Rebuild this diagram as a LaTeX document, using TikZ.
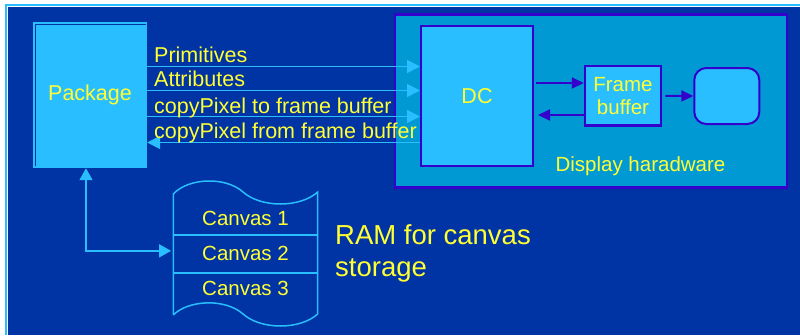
\documentclass[tikz,border=0pt]{standalone}
\usepackage{fontspec}
\setmainfont{Liberation Sans}
\usetikzlibrary{arrows.meta,calc}
\definecolor{bgblue}{RGB}{0,51,163}
\definecolor{skyblue}{RGB}{41,190,255}
\definecolor{hwblue}{RGB}{0,153,212}
\definecolor{edgepurple}{RGB}{51,0,204}
\definecolor{labelyellow}{RGB}{255,255,51}

\begin{document}
\begin{tikzpicture}[x=1pt,y=-1pt,
  txt/.style={text=labelyellow,font=\fontsize{21.5}{25}\selectfont,inner sep=0pt},
  smalltxt/.style={text=labelyellow,font=\fontsize{20.5}{23}\selectfont,inner sep=0pt},
  hwbox/.style={draw=edgepurple,line width=2pt,fill=skyblue,inner sep=0pt},
  parr/.style={draw=edgepurple,line width=2pt,-{Triangle[length=12pt,width=11pt]}},
  barr/.style={draw=skyblue,line width=1.6pt,-{Triangle[length=13pt,width=13pt]}},
  ramline/.style={draw=skyblue,line width=1.5pt},
  cell/.style={smalltxt,minimum width=144.4pt},
]
\useasboundingbox (0,0) rectangle (800,335);
% page background and frame
\fill[white] (0,0) rectangle (800,335);
\fill[skyblue] (5,4) rectangle (800,335);
\fill[white] (7,6) rectangle (800,335);
\fill[bgblue] (8,7) rectangle (800,335);

% display hardware enclosure
\node[draw=edgepurple,line width=2.5pt,fill=hwblue,minimum width=392pt,
      minimum height=173pt,inner sep=0pt] (hw) at (591,101) {};
\node[smalltxt,anchor=base] (hwlabel) at (640.5,171.7) {Display haradware};

% blocks
\node[hwbox,minimum width=112pt,minimum height=140pt] (dc) at (477,96) {};
\node[txt,anchor=base] at (477,103.5) {DC};
\node[hwbox,line width=2.5pt,minimum width=76pt,minimum height=59.5pt,
      align=center,smalltxt,font=\fontsize{20.5}{22.7}\selectfont] (fb) at (623,95.75) {Frame\\buffer};
\node[hwbox,minimum width=65pt,minimum height=56pt,rounded corners=12pt] (screen) at (726.8,96) {};

% package
\node[fill=skyblue,minimum width=114pt,minimum height=146pt,inner sep=0pt] (pkg) at (90,95) {};
\draw[bgblue,line width=1pt] (35,166) -- (35,24.5) -- (146,24.5);
\node[txt,anchor=base] at (90,100.5) {Package};

% package <-> DC traffic
\draw[barr] (pkg.east |- 0,66.5) -- (dc.west |- 0,66.5);
\draw[barr] (pkg.east |- 0,90.5) -- (dc.west |- 0,90.5);
\draw[barr] (pkg.east |- 0,116.5) -- (dc.west |- 0,116.5);
\draw[barr] (dc.west |- 0,142.5) -- (pkg.east |- 0,142.5);
\node[txt,anchor=base west] at (154,62.7) {Primitives};
\node[txt,anchor=base west] at (154,86.3) {Attributes};
\node[txt,anchor=base west] at (154,113) {copyPixel to frame buffer};
\node[txt,anchor=base west] at (154,138.5) {copyPixel from frame buffer};

% DC <-> frame buffer -> display
\draw[parr] ($(dc.east |- 0,83)+(2,0)$) -- (fb.west |- 0,83);
\draw[parr] (fb.west |- 0,115) -- ($(dc.east |- 0,115)+(4,0)$);
\draw[parr,shorten <=3pt] (fb.east) -- (screen.west);

% canvas storage
\node[cell,minimum height=35pt] (c1) at (245.5,218.5) {Canvas 1};
\node[cell,minimum height=37.7pt] (c2) at (245.5,253.85) {Canvas 2};
\node[cell,minimum height=30.6pt] (c3) at (245.5,288.5) {Canvas 3};
\draw[ramline] (173.3,315) -- (173.3,194)
  .. controls (188,178) and (225,176) .. (243,192)
  .. controls (261,208) and (300,208) .. (317.7,192)
  -- (317.7,314)
  .. controls (300,330) and (261,330) .. (243,314)
  .. controls (225,298) and (188,300) .. (173.3,315);
\draw[ramline] (173.3,235) -- (317.7,235);
\draw[ramline] (c2.south west) -- (c2.south east);
\node[text=labelyellow,inner sep=0pt,font=\fontsize{27.5}{32}\selectfont,
      align=left,anchor=base west] (ramlabel) at (335,276.7) {RAM for canvas\\storage};

% package <-> canvas storage
\draw[draw=skyblue,line width=1.6pt,
      {Triangle[length=12pt,width=13pt]}-{Triangle[length=12pt,width=13pt]},shorten >=2pt]
  ($(pkg.south)+(-4,0)$) |- ($(c2.west)+(0,-3)$);
\end{tikzpicture}
\end{document}
